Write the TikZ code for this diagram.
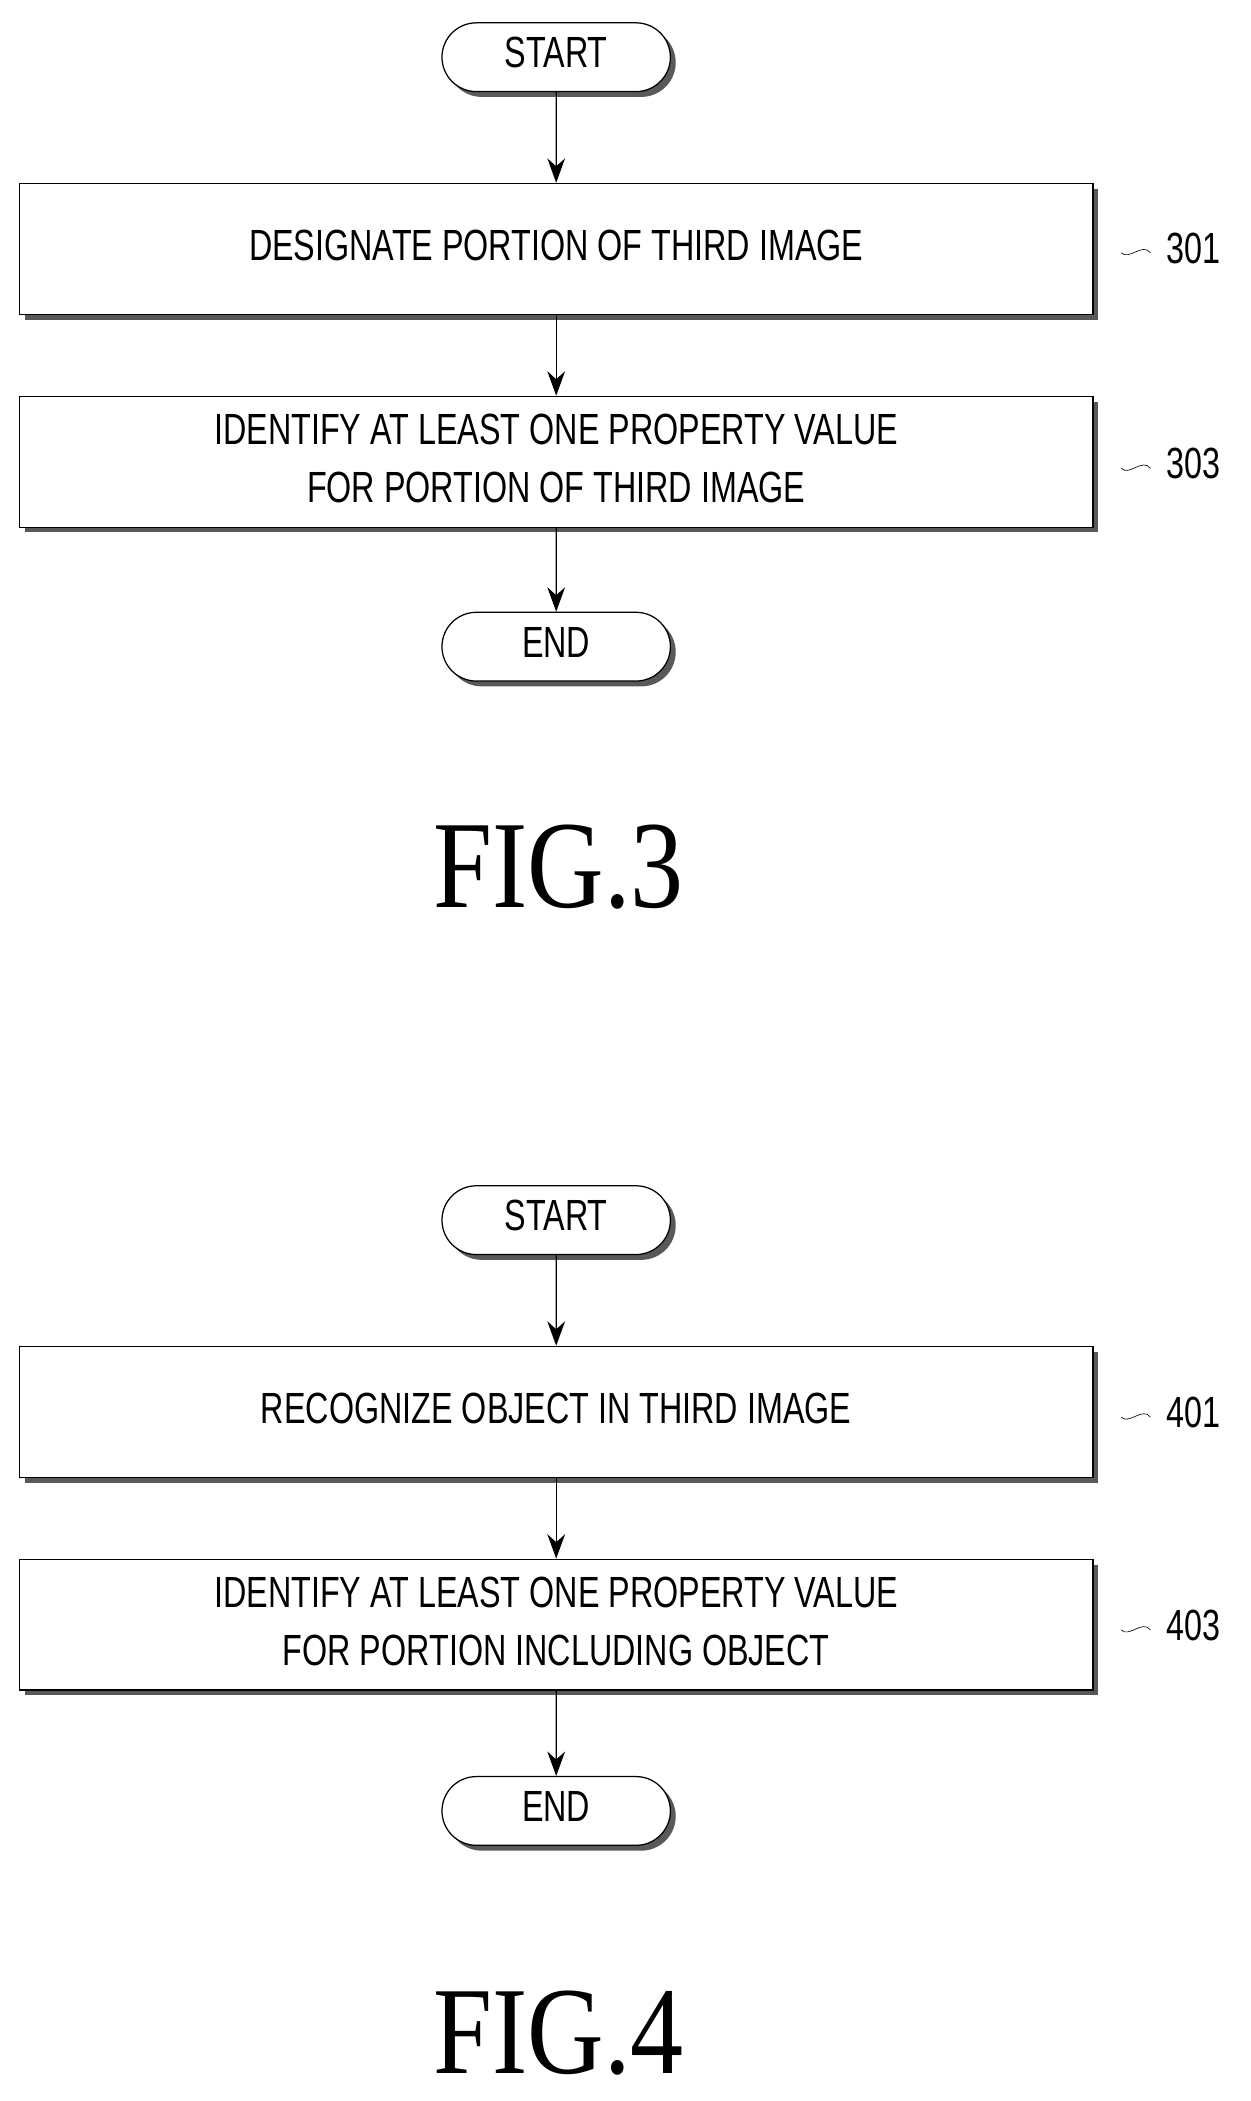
\documentclass[tikz,border=0pt]{standalone}
\usepackage{fontspec}
\setmainfont{Liberation Serif}
\newfontfamily\boxfont{Liberation Sans}
\usetikzlibrary{shapes.misc,shadows,arrows.meta}
\newcommand{\sq}[1]{\scalebox{0.74}[1]{\begin{tabular}{@{}c@{}}#1\end{tabular}}}
\begin{document}
\begin{tikzpicture}[x=0.03cm,y=-0.03cm,
  sh/.style={drop shadow={shadow xshift=0.12cm,shadow yshift=-0.12cm,fill=black!65,opacity=1}},
  box/.style={draw,thick,fill=white,sh,minimum width=24.2cm,minimum height=2.95cm,inner sep=0pt,font=\boxfont\fontsize{28}{37}\selectfont},
  term/.style={draw,thick,fill=white,sh,rounded rectangle,minimum width=5.15cm,minimum height=1.55cm,inner sep=0pt,font=\boxfont\fontsize{28}{34}\selectfont},
  lab/.style={font=\boxfont\fontsize{28}{34}\selectfont},
  arr/.style={thick,-{Stealth[length=0.55cm,width=0.4cm]}},
  fig/.style={font=\fontsize{80}{90}\selectfont}]
\useasboundingbox (0,0) rectangle (940,1579);
% FIG.3
\node[term] (s3) at (418,43) {\sq{START}};
\node[box] (b301) at (418,187) {\sq{DESIGNATE PORTION OF THIRD IMAGE}};
\node[box] (b303) at (418,347) {\sq{IDENTIFY AT LEAST ONE PROPERTY VALUE\\FOR PORTION OF THIRD IMAGE}};
\node[term] (e3) at (418,486) {\sq{END}};
\node[fig] (f3) at (420,652) {\scalebox{0.85}[1]{FIG.3}};
\node[lab] (l301) at (897,190) {\sq{301}};
\node[lab] (l303) at (897,352) {\sq{303}};
\draw[arr] (s3) -- (b301);
\draw[arr] (b301) -- (b303);
\draw[arr] (b303) -- (e3);
\draw (l301.west) ++(-8,0) coordinate (t1) .. controls +(-6,-8) and +(6,6) .. ++(-22,0);
\draw (l303.west) ++(-8,0) coordinate (t2) .. controls +(-6,-8) and +(6,6) .. ++(-22,0);
% FIG.4
\node[term] (s4) at (418,917) {\sq{START}};
\node[box] (b401) at (418,1061) {\sq{RECOGNIZE OBJECT IN THIRD IMAGE}};
\node[box] (b403) at (418,1221) {\sq{IDENTIFY AT LEAST ONE PROPERTY VALUE\\FOR PORTION INCLUDING OBJECT}};
\node[term] (e4) at (418,1361) {\sq{END}};
\node[fig] (f4) at (420,1528) {\scalebox{0.85}[1]{FIG.4}};
\node[lab] (l401) at (897,1065) {\sq{401}};
\node[lab] (l403) at (897,1225) {\sq{403}};
\draw[arr] (s4) -- (b401);
\draw[arr] (b401) -- (b403);
\draw[arr] (b403) -- (e4);
\draw (l401.west) ++(-8,0) coordinate (t3) .. controls +(-6,-8) and +(6,6) .. ++(-22,0);
\draw (l403.west) ++(-8,0) coordinate (t4) .. controls +(-6,-8) and +(6,6) .. ++(-22,0);
\end{tikzpicture}
\end{document}
